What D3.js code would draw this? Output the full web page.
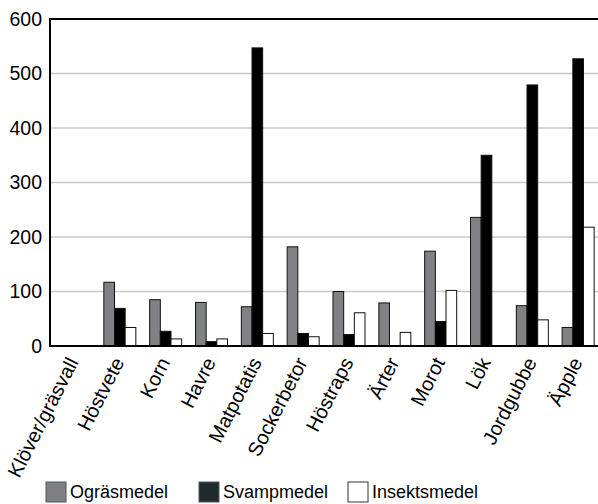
<!DOCTYPE html>
<html><head><meta charset="utf-8">
<script src="https://cdn.jsdelivr.net/npm/d3@7"></script>
<style>body{margin:0;background:#fff}svg{display:block}text{font-family:"Liberation Sans",Arial,sans-serif;fill:#000}</style>
</head><body>
<svg id="c" width="598" height="504"></svg>
<script>
const categories = ["Klöver/gräsvall","Höstvete","Korn","Havre","Matpotatis","Sockerbetor","Höstraps","Ärter","Morot","Lök","Jordgubbe","Äpple"];
const seriesNames = ["Ogräsmedel","Svampmedel","Insektsmedel"];
const ograsmedel   = [0,117,85,80,72,182,100,79,174,236,74,34];
const svampmedel   = [0,69,27,8,547,23,21,0,45,350,479,527];
const insektsmedel = [0,34,13,13,23,17,61,25,102,0,48,218];
const yTicks = [0,100,200,300,400,500,600];

const series = [ograsmedel, svampmedel, insektsmedel];
const fills = ["#808185","#000000","#ffffff"];
const legendFills = ["#7f8083","#1f2a2d","#ffffff"];

const svg = d3.select("#c");
const L = 50, R = 600, T = 19, B = 346;
const x = d3.scaleBand().domain(categories).range([L, R]);
const xs = d3.scaleBand().domain(seriesNames).range([8, 40]);
const y = d3.scaleLinear().domain([0, 600]).range([B, T]);

svg.append("g").selectAll("line").data(yTicks.filter(d => d > 0 && d < 600)).join("line")
  .attr("x1", L).attr("x2", R).attr("y1", d => y(d)).attr("y2", d => y(d))
  .attr("stroke", "#c8c8c8").attr("stroke-width", 1.5);

const g = svg.append("g");
categories.forEach((c, i) => {
  series.forEach((s, j) => {
    if (s[i] <= 0) return;
    g.append("rect")
      .attr("x", x(c) + xs(seriesNames[j]))
      .attr("y", y(s[i]))
      .attr("width", xs.bandwidth())
      .attr("height", y(0) - y(s[i]))
      .attr("fill", fills[j])
      .attr("stroke", "#111").attr("stroke-width", 1);
  });
});

svg.append("line").attr("x1", L).attr("x2", R).attr("y1", T).attr("y2", T).attr("stroke", "#000").attr("stroke-width", 2);
svg.append("line").attr("x1", L).attr("x2", L).attr("y1", T - 1).attr("y2", B + 1).attr("stroke", "#000").attr("stroke-width", 2);
svg.append("line").attr("x1", L).attr("x2", R).attr("y1", B).attr("y2", B).attr("stroke", "#000").attr("stroke-width", 2);

svg.append("g").selectAll("text").data(yTicks).join("text")
  .attr("x", 42).attr("y", d => y(d)).attr("dy", "0.35em")
  .attr("text-anchor", "end").style("font-size", "19.5px")
  .text(d => d);

svg.append("g").selectAll("text").data(categories).join("text")
  .attr("transform", d => `translate(${x(d) + x.bandwidth() / 2 + 6},${362}) rotate(-63)`)
  .attr("text-anchor", "end").style("font-size", "20px")
  .text(d => d);

const legX = [46, 199, 348];
seriesNames.forEach((n, j) => {
  svg.append("rect").attr("x", legX[j]).attr("y", 482).attr("width", 20).attr("height", 20)
    .attr("fill", legendFills[j]).attr("stroke", j === 2 ? "#333" : "#555").attr("stroke-width", 1);
  svg.append("text").attr("x", legX[j] + 24).attr("y", 498)
    .style("font-size", "18px").text(n);
});
</script>
</body></html>
